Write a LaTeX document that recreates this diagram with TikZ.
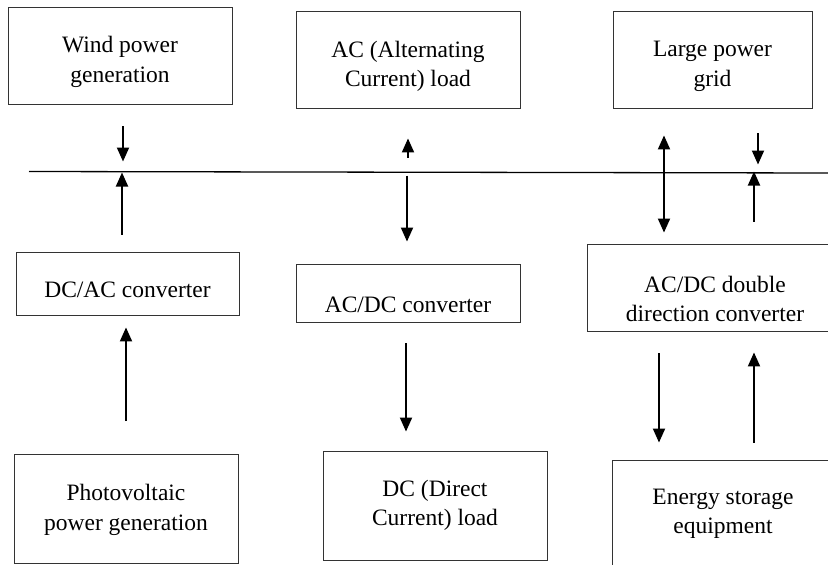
\documentclass[tikz,border=0pt]{standalone}
\usepackage{fontspec}
\setmainfont{Liberation Serif}
\usetikzlibrary{arrows.meta,calc}
\begin{document}
\begin{tikzpicture}[x=1pt,y=-1pt,
  box/.style={draw=black!80,line width=0.9pt,rectangle,inner sep=0pt},
  txt/.style={align=center,font=\fontsize{23.5}{29.5}\selectfont,inner sep=0pt},
  arr/.style={-{Triangle[width=12pt,length=14pt]},line width=1.9pt},
  dblarr/.style={{Triangle[width=12pt,length=14pt]}-{Triangle[width=12pt,length=14pt]},line width=1.9pt}]
\useasboundingbox (0,0) rectangle (828,565);
\clip (0,0) rectangle (828,565);
% boxes
\node[box,minimum width=224pt,minimum height=97pt] (wind) at (120,55.5) {};
\node[txt] (windT) at ($(wind.center)+(0,6.5)$) {Wind power\\generation};
\node[box,minimum width=224pt,minimum height=97pt] (acload) at (408,59.5) {};
\node[txt] (acloadT) at ($(acload.center)+(0,7)$) {AC (Alternating\\Current) load};
\node[box,minimum width=199pt,minimum height=97pt] (grid) at (712.5,59.5) {};
\node[txt] (gridT) at ($(grid.center)+(0,7)$) {Large power\\grid};
\node[box,minimum width=223pt,minimum height=63pt] (dcac) at (127.5,283.5) {};
\node[txt] (dcacT) at ($(dcac.center)+(0,6.5)$) {DC/AC converter};
\node[box,minimum width=224pt,minimum height=58pt] (acdc) at (408,293) {};
\node[txt] (acdcT) at ($(acdc.center)+(0,12)$) {AC/DC converter};
\node[box,minimum width=273pt,minimum height=87pt] (dbl) at (723.5,287.5) {};
\node[txt] (dblT) at ($(dbl.center)+(-8.5,11.5)$) {AC/DC double\\direction converter};
\node[box,minimum width=224pt,minimum height=109pt] (pv) at (126,509) {};
\node[txt] (pvT) at ($(pv.center)+(0,1)$) {Photovoltaic\\power generation};
\node[box,minimum width=224pt,minimum height=109pt] (dcload) at (435,505.5) {};
\node[txt] (dcloadT) at ($(dcload.center)+(0,0)$) {DC (Direct\\Current) load};
\node[box,minimum width=248pt,minimum height=108pt] (stor) at (736,514) {};
\node[txt] (storT) at ($(stor.center)+(-13,0)$) {Energy storage\\equipment};
% bus
\coordinate (busL) at (29,171.5);
\coordinate (busR) at (828,173);
\draw[line width=1.3pt] (busL) -- (busR);
% arrows
\draw[arr,shorten <=22pt,shorten >=10pt] ([xshift=3pt]wind.south) -- ([xshift=3pt]wind.south |- busL);
\draw[arr,shorten <=17pt,shorten >=1pt] ([xshift=-5.5pt]dcac.north) -- ([xshift=-5.5pt]dcac.north |- busL);
\draw[arr,shorten <=14pt,shorten >=30pt] (acload.south |- busL) -- (acload.south);
\draw[arr,shorten <=4pt,shorten >=22pt] ([xshift=-1pt]acdc.north |- busL) -- ([xshift=-1pt]acdc.north);
\draw[arr,shorten <=21pt,shorten >=19pt] ([xshift=-2pt]acdc.south) -- ([xshift=-2pt]acdc.south |- dcload.north);
\draw[arr,shorten <=33pt,shorten >=12pt] (pv.north) -- (pv.north |- dcac.south);
\draw[dblarr,shorten <=27pt,shorten >=11pt] ([xshift=-48.5pt]grid.south) -- ([xshift=-48.5pt]grid.south |- dbl.north);
\draw[arr,shorten <=25pt,shorten >=7pt] ([xshift=45.5pt]grid.south) -- ([xshift=45.5pt]grid.south |- busL);
\draw[arr,shorten <=22pt,shorten >=0pt] ([xshift=30.5pt]dbl.north) -- ([xshift=30.5pt]dbl.north |- busL);
\draw[arr,shorten <=22pt,shorten >=17pt] ([xshift=-64.5pt]dbl.south) -- ([xshift=-64.5pt]dbl.south |- stor.north);
\draw[arr,shorten <=17pt,shorten >=21pt] ([xshift=18pt]stor.north) -- ([xshift=18pt]stor.north |- dbl.south);
\end{tikzpicture}
\end{document}
